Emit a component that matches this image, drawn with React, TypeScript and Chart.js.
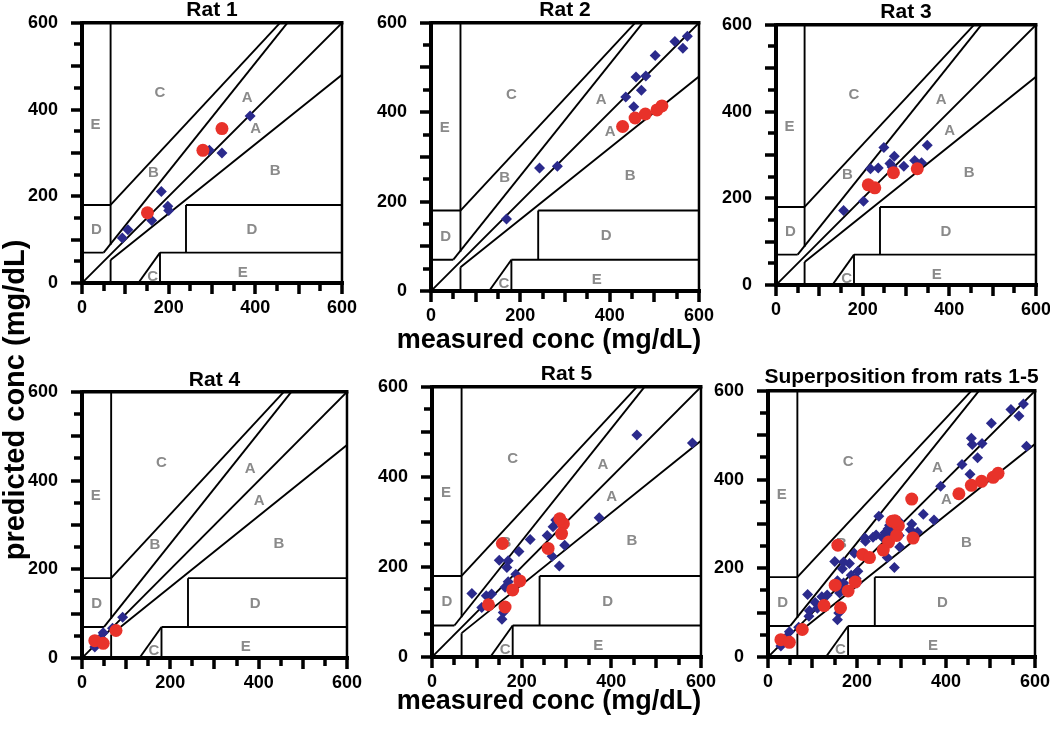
import React, { useEffect, useRef } from "react";
import { Chart, registerables } from "chart.js";

Chart.register(...registerables);

// ---------- data ----------
const panelTitles = ["Rat 1", "Rat 2", "Rat 3", "Rat 4", "Rat 5", "Superposition from rats 1-5"];
const labeledTicks = [0, 200, 400, 600];
const tickValues = [0, 50, 100, 150, 200, 250, 300, 350, 400, 450, 500, 550, 600];

const rat1Blue = [[388, 385], [294, 306], [323, 300], [183, 211], [198, 177], [200, 167], [161, 144], [106, 123], [93, 104]];
const rat1Red = [[323, 356], [279, 306], [151, 162]];

const rat2Blue = [[574, 570], [546, 558], [564, 543], [502, 527], [459, 479], [481, 481], [471, 449], [436, 434], [454, 412], [243, 275], [283, 279], [169, 161]];
const rat2Red = [[429, 368], [457, 387], [480, 396], [506, 405], [517, 414]];

const rat3Blue = [[249, 317], [349, 322], [273, 297], [218, 268], [236, 270], [263, 280], [268, 272], [295, 274], [320, 287], [336, 282], [202, 193], [156, 172]];
const rat3Red = [[213, 231], [228, 224], [271, 259], [326, 268]];

const rat4Blue = [[29, 25], [42, 45], [48, 57], [69, 67], [92, 92]];
const rat4Red = [[29, 39], [48, 33], [77, 62]];

const rat5Blue = [[457, 493], [581, 475], [373, 309], [276, 304], [289, 307], [270, 289], [257, 270], [219, 261], [296, 248], [194, 234], [150, 215], [170, 214], [167, 199], [187, 184], [170, 167], [163, 155], [268, 224], [284, 202], [89, 141], [121, 136], [133, 140], [111, 110], [159, 99], [156, 84]];
const rat5Red = [[157, 252], [293, 296], [289, 274], [259, 241], [196, 169], [180, 149], [126, 116], [163, 111], [285, 307]];

const allBlue = [...rat1Blue, ...rat2Blue, ...rat3Blue, ...rat4Blue, ...rat5Blue];
const allRed = [...rat1Red, ...rat2Red, ...rat3Red, ...rat4Red, ...rat5Red];

// Clarke error grid boundary segments (measured conc, predicted conc)
const gridSegments = [
  [[0, 0], [600, 600]],
  [[66, 180], [457, 600]],
  [[50, 70], [474, 600]],
  [[66, 53], [600, 480]],
  [[0, 70], [50, 70]],
  [[0, 180], [66, 180]],
  [[66, 88], [66, 600]],
  [[66, 0], [66, 53]],
  [[130, 0], [180, 70]],
  [[180, 0], [180, 70]],
  [[180, 70], [600, 70]],
  [[240, 70], [240, 180]],
  [[240, 180], [600, 180]],
];

const zoneLetters = ["C", "A", "A", "E", "B", "B", "D", "D", "C", "E"];
const zoneX = [180, 381, 401, 31, 165, 446, 33, 392, 163, 371];
const zoneY = [439, 427, 355, 365, 254, 258, 122, 123, 15, 24];

const seriesBlue = [rat1Blue, rat2Blue, rat3Blue, rat4Blue, rat5Blue, allBlue];
const seriesRed = [rat1Red, rat2Red, rat3Red, rat4Red, rat5Red, allRed];

// ---------- layout ----------
const plotBoxes = [
  { left: 82, top: 22, w: 261, h: 261, titleDy: 13 },
  { left: 431, top: 22, w: 269, h: 269, titleDy: 13 },
  { left: 776, top: 24, w: 261, h: 261, titleDy: 13 },
  { left: 82, top: 391, w: 266, h: 267, titleDy: 12 },
  { left: 432, top: 386, w: 270, h: 271, titleDy: 13 },
  { left: 768, top: 390, w: 268, h: 267, titleDy: 14 },
];

const FONT = "'Liberation Sans', Arial, Helvetica, sans-serif";
const BLUE = "#2b2a8c";
const RED = "#e8322a";
const PAD_L = 80;
const PAD_T = 34;
const PAD_R = 28;
const PAD_B = 44;

const toXY = (arr: number[][]) => arr.map(([x, y]) => ({ x, y }));

function Panel({ idx }: { idx: number }) {
  const ref = useRef<HTMLCanvasElement>(null);
  const box = plotBoxes[idx];
  const W = box.w + PAD_L + PAD_R;
  const H = box.h + PAD_T + PAD_B;

  useEffect(() => {
    const title = panelTitles[idx];
    const decor = {
      id: "decor" + idx,
      beforeDatasetsDraw(chart: any) {
        const { ctx, scales } = chart;
        ctx.save();
        ctx.fillStyle = "#8a8a8a";
        ctx.font = `bold 15px ${FONT}`;
        ctx.textAlign = "center";
        ctx.textBaseline = "middle";
        zoneLetters.forEach((t, i) => {
          ctx.fillText(t, scales.x.getPixelForValue(zoneX[i]), scales.y.getPixelForValue(zoneY[i]));
        });
        ctx.restore();
      },
      afterDraw(chart: any) {
        const { ctx, scales } = chart;
        const sx = scales.x;
        const sy = scales.y;
        const x0 = sx.getPixelForValue(0);
        const x1 = sx.getPixelForValue(600);
        const y0 = sy.getPixelForValue(0);
        const y1 = sy.getPixelForValue(600);
        ctx.save();
        ctx.strokeStyle = "#000";
        ctx.lineCap = "butt";
        // frame: top and right
        ctx.lineWidth = 3.5;
        ctx.beginPath();
        ctx.moveTo(x0, y1);
        ctx.lineTo(x1 + 1.5, y1);
        ctx.stroke();
        ctx.lineWidth = 2.5;
        ctx.beginPath();
        ctx.moveTo(x1, y1);
        ctx.lineTo(x1, y0);
        ctx.stroke();
        // axes
        ctx.lineWidth = 4;
        ctx.beginPath();
        ctx.moveTo(x0, y1 - 1.5);
        ctx.lineTo(x0, y0 + 2);
        ctx.moveTo(x0 - 2, y0);
        ctx.lineTo(x1 + 2, y0);
        ctx.stroke();
        // tick marks
        ctx.lineWidth = 3.5;
        ctx.beginPath();
        tickValues.forEach((v) => {
          const len = v % 100 === 0 ? 11 : 8;
          const px = Math.round(sx.getPixelForValue(v));
          ctx.moveTo(px, y0);
          ctx.lineTo(px, y0 + len);
          const py = Math.round(sy.getPixelForValue(v));
          ctx.moveTo(x0, py);
          ctx.lineTo(x0 - len, py);
        });
        ctx.stroke();
        // panel title
        ctx.fillStyle = "#000";
        ctx.font = `bold 21px ${FONT}`;
        ctx.textAlign = "center";
        ctx.textBaseline = "middle";
        ctx.fillText(title, (x0 + x1) / 2, y1 - box.titleDy);
        ctx.restore();
      },
    };

    const lineSets = gridSegments.map((seg) => ({
      type: "scatter" as const,
      data: toXY(seg),
      showLine: true,
      borderColor: "#000",
      borderWidth: 1.9,
      pointRadius: 0,
      pointHoverRadius: 0,
    }));

    const tickFont = { family: FONT, size: 18, weight: "bold" as const };
    const cb = (v: any) => (labeledTicks.includes(Number(v)) ? String(v) : "");

    const chart = new Chart(ref.current!, {
      type: "scatter",
      data: {
        datasets: [
          {
            data: toXY(seriesRed[idx]),
            pointStyle: "circle",
            pointRadius: 6.5,
            backgroundColor: RED,
            borderColor: RED,
            borderWidth: 0,
          },
          {
            data: toXY(seriesBlue[idx]),
            pointStyle: "rectRot",
            pointRadius: 5.5,
            backgroundColor: BLUE,
            borderColor: BLUE,
            borderWidth: 0,
          },
          ...lineSets,
        ] as any,
      },
      options: {
        responsive: false,
        animation: false,
        devicePixelRatio: 1,
        events: [],
        layout: { padding: { left: 0, top: PAD_T, right: PAD_R, bottom: 0 } },
        plugins: { legend: { display: false }, tooltip: { enabled: false }, title: { display: false } },
        scales: {
          x: {
            type: "linear",
            min: 0,
            max: 600,
            afterFit: (s: any) => {
              s.height = PAD_B;
            },
            ticks: { stepSize: 50, autoSkip: false, maxRotation: 0, padding: 14, color: "#000", font: tickFont, callback: cb },
            grid: { display: false, drawTicks: false, drawOnChartArea: false },
            border: { display: false },
          },
          y: {
            type: "linear",
            min: 0,
            max: 600,
            afterFit: (s: any) => {
              s.width = PAD_L;
            },
            ticks: { stepSize: 50, autoSkip: false, padding: 24, color: "#000", font: tickFont, callback: cb },
            grid: { display: false, drawTicks: false, drawOnChartArea: false },
            border: { display: false },
          },
        },
      } as any,
      plugins: [decor],
    });
    return () => chart.destroy();
  }, [idx]);

  return (
    <canvas
      ref={ref}
      width={W}
      height={H}
      style={{ position: "absolute", left: box.left - PAD_L, top: box.top - PAD_T, width: W, height: H }}
    />
  );
}

const axisTitleStyle: React.CSSProperties = {
  position: "absolute",
  fontFamily: FONT,
  fontWeight: "bold",
  fontSize: 27,
  lineHeight: "32px",
  textAlign: "center",
  whiteSpace: "nowrap",
  color: "#000",
};

export default function App() {
  return (
    <div style={{ position: "absolute", left: 0, top: 0, width: 1050, height: 741, background: "#fff", overflow: "hidden" }}>
      {panelTitles.map((_, i) => (
        <Panel key={i} idx={i} />
      ))}
      <div style={{ ...axisTitleStyle, left: 349, top: 323, width: 400 }}>measured conc (mg/dL)</div>
      <div style={{ ...axisTitleStyle, left: 349, top: 684, width: 400 }}>measured conc (mg/dL)</div>
      <div
        style={{
          ...axisTitleStyle,
          fontSize: 29,
          left: 14 - 200,
          top: 400 - 16,
          width: 400,
          transform: "rotate(-90deg)",
        }}
      >
        predicted conc (mg/dL)
      </div>
    </div>
  );
}
